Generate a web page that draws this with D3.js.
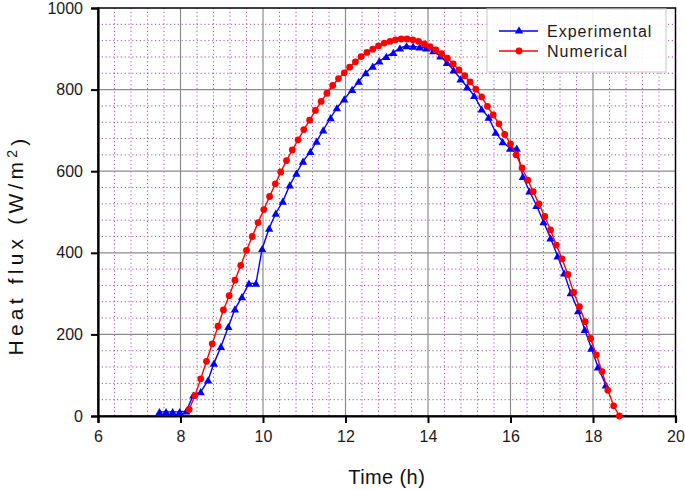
<!DOCTYPE html>
<html>
<head>
<meta charset="utf-8">
<script src="https://cdn.jsdelivr.net/npm/d3@7"></script>
<style>
  html, body { margin: 0; padding: 0; background: #fff; }
  svg { display: block; font-family: "Liberation Sans", Arial, sans-serif; }
</style>
</head>
<body>
<div id="chart"></div>
<script>
// ---- data ----
const expTime = [7.49, 7.65, 7.81, 7.98, 8.14, 8.31, 8.49, 8.67, 8.81, 8.98, 9.16, 9.32, 9.49, 9.66, 9.83, 9.98,
  10.15, 10.31, 10.48, 10.65, 10.81, 10.97, 11.15, 11.30, 11.46, 11.64, 11.79, 11.97, 12.16, 12.32, 12.49, 12.66,
  12.82, 12.99, 13.16, 13.32, 13.48, 13.64, 13.80, 13.96, 14.13, 14.30, 14.46, 14.62, 14.79, 14.95, 15.12, 15.30,
  15.47, 15.64, 15.81, 15.99, 16.15, 16.30, 16.46, 16.63, 16.80, 16.97, 17.14, 17.30, 17.46, 17.64, 17.80, 17.96,
  18.12, 18.31];
const expValue = [10, 10, 10, 10, 12, 51, 59, 88, 129, 170, 219, 262, 292, 325, 325, 410,
  460, 497, 526, 566, 595, 624, 648, 673, 701, 731, 755, 777, 800, 820, 841, 857,
  870, 881, 891, 902, 907, 906, 904, 902, 895, 882, 866, 848, 826, 806, 785, 752,
  732, 695, 672, 656, 656, 587, 551, 516, 476, 436, 392, 350, 302, 258, 212, 166,
  120, 76];

const numTime = [8.21, 8.35, 8.49, 8.63, 8.77, 8.91, 9.04, 9.18, 9.32, 9.46, 9.60, 9.74, 9.88, 10.02, 10.16, 10.30,
  10.43, 10.57, 10.71, 10.85, 10.99, 11.13, 11.27, 11.41, 11.55, 11.69, 11.83, 11.97, 12.10, 12.24, 12.38, 12.52,
  12.66, 12.80, 12.94, 13.08, 13.21, 13.35, 13.49, 13.63, 13.77, 13.91, 14.05, 14.19, 14.33, 14.47, 14.61, 14.75,
  14.89, 15.02, 15.16, 15.30, 15.44, 15.58, 15.72, 15.86, 16.00, 16.14, 16.28, 16.42, 16.55, 16.69, 16.83, 16.97,
  17.11, 17.25, 17.39, 17.53, 17.67, 17.81, 17.94, 18.08, 18.22, 18.36, 18.50, 18.64];
const numValue = [16, 50, 91, 134, 177, 220, 260, 295, 333, 369, 406, 440, 474, 506, 538, 569,
  598, 626, 652, 677, 702, 725, 749, 771, 791, 810, 827, 841, 855, 868, 881, 891,
  899, 907, 914, 918, 922, 924, 924, 922, 918, 912, 905, 897, 888, 877, 863, 848,
  834, 819, 801, 782, 759, 738, 716, 690, 667, 640, 608, 578, 550, 520, 489, 456,
  419, 385, 347, 303, 268, 231, 190, 150, 109, 63, 25, 0];

const xTicks = [6, 8, 10, 12, 14, 16, 18, 20];
const yTicks = [0, 200, 400, 600, 800, 1000];
const seriesNames = ["Experimental", "Numerical"];
const seriesColors = ["#0000ff", "#ff0000"];

// ---- layout ----
const W = 685, H = 490;
const L = 98, R = 675.5, T = 8, B = 416;

const svg = d3.select("#chart").append("svg").attr("width", W).attr("height", H);

const x = d3.scaleLinear().domain([6, 20]).range([L, R]);
const y = d3.scaleLinear().domain([0, 1000]).range([B, T]);

// minor grid (dotted purple)
const xMinor = d3.range(6, 20.001, 0.4).filter(v => Math.abs(v / 2 - Math.round(v / 2)) > 1e-6);
const yMinor = d3.range(0, 1000.1, 40).filter(v => v % 200 !== 0);
const grid = svg.append("g");
grid.selectAll(".vmin").data(xMinor).join("line")
  .attr("x1", d => x(d)).attr("x2", d => x(d)).attr("y1", T).attr("y2", B)
  .attr("stroke", "#a852a8").attr("stroke-width", 1).attr("stroke-dasharray", "1.2,2.6");
grid.selectAll(".hmin").data(yMinor).join("line")
  .attr("x1", L).attr("x2", R).attr("y1", d => y(d)).attr("y2", d => y(d))
  .attr("stroke", "#a852a8").attr("stroke-width", 1).attr("stroke-dasharray", "1.2,2.6");
// major grid
grid.selectAll(".vmaj").data(xTicks.slice(1, -1)).join("line")
  .attr("x1", d => x(d)).attr("x2", d => x(d)).attr("y1", T).attr("y2", B)
  .attr("stroke", "#8c8c8c").attr("stroke-width", 1.2);
grid.selectAll(".hmaj").data(yTicks.slice(1, -1)).join("line")
  .attr("x1", L).attr("x2", R).attr("y1", d => y(d)).attr("y2", d => y(d))
  .attr("stroke", "#8c8c8c").attr("stroke-width", 1.2);

// frame
svg.append("rect").attr("x", L).attr("y", T).attr("width", R - L).attr("height", B - T)
  .attr("fill", "none").attr("stroke", "#000").attr("stroke-width", 1.5);

// axes
const xAxis = svg.append("g").attr("transform", `translate(0,${B})`)
  .call(d3.axisBottom(x).tickValues(xTicks).tickSize(7).tickPadding(8).tickFormat(d3.format("d")));
const yAxis = svg.append("g").attr("transform", `translate(${L},0)`)
  .call(d3.axisLeft(y).tickValues(yTicks).tickSize(7).tickPadding(8).tickFormat(d3.format("d")));
[xAxis, yAxis].forEach(a => {
  a.select(".domain").attr("stroke", "#000").attr("stroke-width", 2.2);
  a.selectAll(".tick line").attr("stroke", "#000").attr("stroke-width", 2);
  a.selectAll(".tick text").attr("fill", "#1a1a1a").style("font-size", "16px")
    .style("font-family", "'Liberation Sans', Arial, sans-serif");
});

// series
const expData = expTime.map((t, i) => ({ t, v: expValue[i] }));
const numData = numTime.map((t, i) => ({ t, v: numValue[i] }));
const line = d3.line().x(d => x(d.t)).y(d => y(d.v));

svg.append("path").datum(expData).attr("d", line)
  .attr("fill", "none").attr("stroke", seriesColors[0]).attr("stroke-width", 1.4);
const tri = d3.symbol().type(d3.symbolTriangle).size(30);
svg.append("g").selectAll("path").data(expData).join("path")
  .attr("d", tri).attr("transform", d => `translate(${x(d.t)},${y(d.v) + 1})`)
  .attr("fill", seriesColors[0]);

svg.append("path").datum(numData).attr("d", line)
  .attr("fill", "none").attr("stroke", seriesColors[1]).attr("stroke-width", 1.4);
svg.append("g").selectAll("circle").data(numData).join("circle")
  .attr("cx", d => x(d.t)).attr("cy", d => y(d.v)).attr("r", 3.4)
  .attr("fill", seriesColors[1]);

// legend
const lg = svg.append("g");
lg.append("rect").attr("x", 487).attr("y", 9).attr("width", 179).attr("height", 63)
  .attr("fill", "#fff").attr("fill-opacity", 0.9).attr("stroke", "#d0d0d0").attr("stroke-width", 1.2);
seriesNames.forEach((name, i) => {
  const yy = 31 + i * 20;
  lg.append("line").attr("x1", 499).attr("x2", 538).attr("y1", yy).attr("y2", yy)
    .attr("stroke", seriesColors[i]).attr("stroke-width", 1.6);
  if (i === 0) {
    lg.append("path").attr("d", tri).attr("transform", `translate(519,${yy})`).attr("fill", seriesColors[i]);
  } else {
    lg.append("circle").attr("cx", 519).attr("cy", yy).attr("r", 3.4).attr("fill", seriesColors[i]);
  }
  lg.append("text").attr("x", 547).attr("y", yy).attr("dy", "0.36em")
    .attr("fill", "#1a1a1a").style("font-size", "16px").style("letter-spacing", "1px").text(name);
});

// axis titles
svg.append("text").attr("x", (L + R) / 2).attr("y", 484).attr("text-anchor", "middle")
  .attr("fill", "#111").style("font-size", "20px").style("letter-spacing", "0.4px").text("Time (h)");
const yt = svg.append("text").attr("transform", "translate(23,245) rotate(-90)")
  .attr("text-anchor", "middle").attr("fill", "#111").style("font-size", "21px").style("letter-spacing", "4.2px");
yt.append("tspan").text("Heat flux (W/m");
yt.append("tspan").attr("dy", "-0.45em").style("font-size", "14px").text("2");
yt.append("tspan").attr("dy", "0.45em").text(")");
</script>
</body>
</html>
